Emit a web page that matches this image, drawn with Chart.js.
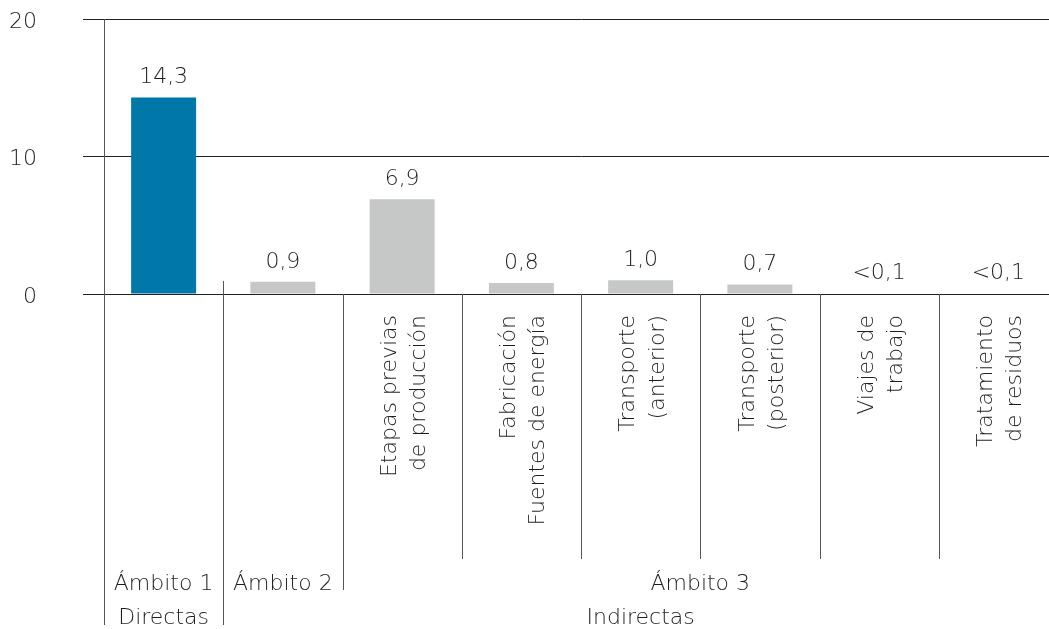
<!DOCTYPE html>
<html>
<head>
<meta charset="utf-8">
<script src="https://cdn.jsdelivr.net/npm/chart.js@4/dist/chart.umd.min.js"></script>
<style>
  html, body { margin: 0; padding: 0; background: #fff; overflow: hidden; }
  body { width: 1049px; height: 629px; }
  #wrap { width: 1058px; height: 629px; position: relative; }
</style>
</head>
<body>
<div id="wrap"><canvas id="c"></canvas></div>
<script>
const categories = [
  ['Ámbito 1'],
  ['Ámbito 2'],
  ['Etapas previas', 'de producción'],
  ['Fabricación', 'Fuentes de energía'],
  ['Transporte', '(anterior)'],
  ['Transporte', '(posterior)'],
  ['Viajes de', 'trabajo'],
  ['Tratamiento', 'de residuos']
];
const tickLabels = ['', '', 'Etapas previas|de producción', 'Fabricación|Fuentes de energía',
  'Transporte|(anterior)', 'Transporte|(posterior)', 'Viajes de|trabajo', 'Tratamiento|de residuos'];
const values = [14.3, 0.9, 6.9, 0.8, 1.0, 0.7, 0.04, 0.04];
const valueLabels = ['14,3', '0,9', '6,9', '0,8', '1,0', '0,7', '<0,1', '<0,1'];
const barColors = ['#0077A9', '#C6C7C7', '#C6C7C7', '#C6C7C7', '#C6C7C7', '#C6C7C7', '#C6C7C7', '#C6C7C7'];
const yTicks = [0, 10, 20];
const groupLabels = ['Ámbito 1', 'Ámbito 2', 'Ámbito 3'];
const groupRanges = [[0, 0], [1, 1], [2, 7]];
const typeLabels = ['Directas', 'Indirectas'];
const typeRanges = [[0, 0], [1, 7]];

const FONT = '"DejaVu Sans", sans-serif';
const TEXT = '#1e1e1e';

function noPad(s) {
  s.paddingLeft = 0; s.paddingRight = 0; s.paddingTop = 0; s.paddingBottom = 0;
}

const overlay = {
  id: 'overlay',
  afterDatasetsDraw(chart) {
    const ctx = chart.ctx;
    const x = chart.scales.x, y = chart.scales.y;
    const area = chart.chartArea;
    const half = (x.getPixelForValue(1) - x.getPixelForValue(0)) / 2;
    const edge = i => x.getPixelForValue(i) - half;
    ctx.save();
    // separators
    ctx.strokeStyle = '#555';
    ctx.lineWidth = 1;
    for (let k = 0; k < categories.length; k++) {
      let top = y.getPixelForValue(0), bottom = 559;
      if (k === 0) { top = area.top; bottom = 625; }
      else if (k === 1) { top = y.getPixelForValue(0.95); bottom = 625; }
      else if (k === 2) { bottom = 590; }
      const px = Math.round(edge(k)) + 0.5;
      ctx.beginPath();
      ctx.moveTo(px, top);
      ctx.lineTo(px, bottom);
      ctx.stroke();
    }
    // value labels
    ctx.fillStyle = TEXT;
    ctx.font = '200 22px ' + FONT;
    ctx.textAlign = 'center';
    ctx.textBaseline = 'alphabetic';
    const meta = chart.getDatasetMeta(0);
    meta.data.forEach((bar, i) => {
      ctx.fillText(valueLabels[i], bar.x, bar.y - 14);
    });
    // group labels
    groupLabels.forEach((t, i) => {
      const [a, b] = groupRanges[i];
      const cx = (edge(a) + edge(b + 1)) / 2;
      ctx.fillText(t, cx, 590);
    });
    typeLabels.forEach((t, i) => {
      const [a, b] = typeRanges[i];
      const cx = (edge(a) + edge(b + 1)) / 2;
      ctx.fillText(t, cx, 624);
    });
    ctx.restore();
  }
};

new Chart(document.getElementById('c'), {
  type: 'bar',
  data: {
    labels: tickLabels,
    datasets: [{
      data: values,
      backgroundColor: barColors,
      borderWidth: 0,
      barPercentage: 0.545,
      categoryPercentage: 1
    }]
  },
  options: {
    responsive: true,
    maintainAspectRatio: false,
    animation: false,
    events: [],
    layout: { padding: { top: 19, left: 0, right: 0, bottom: 0 } },
    plugins: { legend: { display: false }, tooltip: { enabled: false } },
    scales: {
      x: {
        grid: { display: false, drawTicks: false },
        border: { display: false },
        afterFit(s) { s.height = 335; noPad(s); },
        ticks: {
          minRotation: 90,
          maxRotation: 90,
          autoSkip: false,
          padding: 21,
          labelOffset: -12,
          color: TEXT,
          font: { family: FONT, size: 22, weight: 200, lineHeight: 1.33 },
          callback(v, i) { const t = tickLabels[i]; return t ? t.split('|') : ''; }
        }
      },
      y: {
        min: 0,
        max: 20,
        afterFit(s) { s.width = 104; noPad(s); },
        afterBuildTicks(s) { s.ticks = yTicks.map(v => ({ value: v })); },
        border: { display: true, color: '#444', width: 1 },
        grid: { color: '#222', lineWidth: 1, tickLength: 21, drawTicks: true },
        ticks: {
          padding: 46,
          labelOffset: 3,
          color: TEXT,
          font: { family: FONT, size: 22, weight: 200 }
        }
      }
    }
  },
  plugins: [overlay]
});
</script>
</body>
</html>
